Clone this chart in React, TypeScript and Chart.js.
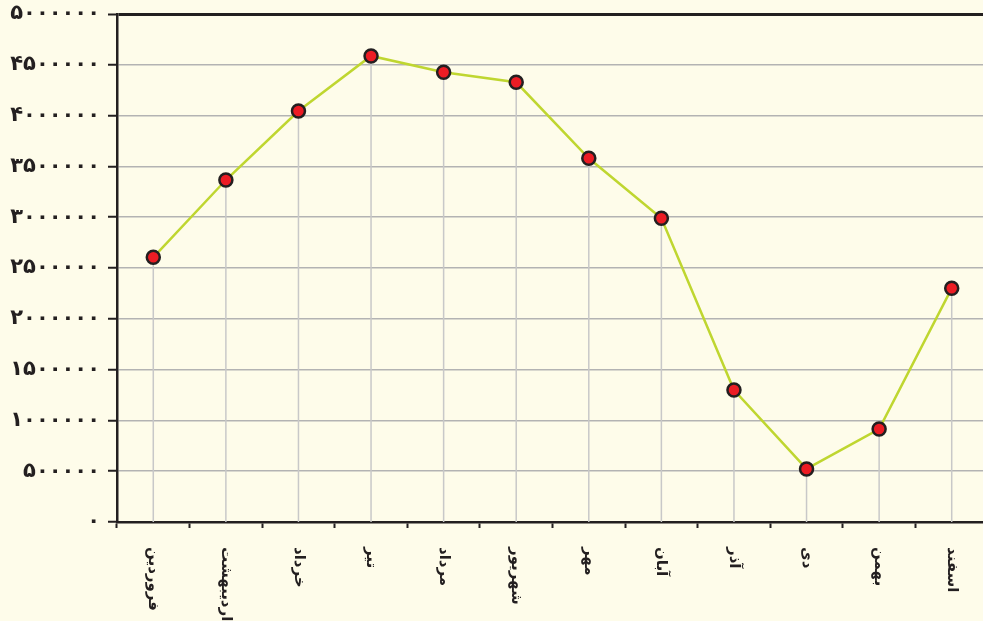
import { useEffect, useRef } from 'react';
import { Chart, registerables } from 'chart.js';
Chart.register(...registerables);

const months = ['فروردین', 'اردیبهشت', 'خرداد', 'تیر', 'مرداد', 'شهریور', 'مهر', 'آبان', 'آذر', 'دی', 'بهمن', 'اسفند'];
const values = [2605000, 3366000, 4045000, 4587000, 4426000, 4328000, 3580000, 2989000, 1299000, 522000, 915000, 2300000];
const yMin = 0;
const yMax = 5000000;
const yStep = 500000;

const persianDigits = '۰۱۲۳۴۵۶۷۸۹';
const toPersian = (v: number | string) => String(v).replace(/\d/g, (d) => persianDigits[+d]);

const INK = '#231F20';
const BG = '#FEFCEA';
const W = 997;
const H = 621;

const dropLines = {
  id: 'dropLines',
  beforeDatasetsDraw(chart: any) {
    const { ctx, chartArea } = chart;
    const meta = chart.getDatasetMeta(0);
    ctx.save();
    ctx.strokeStyle = '#C8C8C8';
    ctx.lineWidth = 1.5;
    meta.data.forEach((pt: any) => {
      ctx.beginPath();
      ctx.moveTo(pt.x, pt.y);
      ctx.lineTo(pt.x, chartArea.bottom);
      ctx.stroke();
    });
    ctx.restore();
  },
};

const rotatedLabels = {
  id: 'rotatedLabels',
  afterDraw(chart: any) {
    const { ctx, chartArea } = chart;
    const xs = chart.scales.x;
    ctx.save();
    ctx.font = 'bold 15px "DejaVu Sans"';
    ctx.fillStyle = INK;
    ctx.textAlign = 'left';
    ctx.textBaseline = 'middle';
    (ctx as any).direction = 'ltr';
    months.forEach((m, i) => {
      const x = xs.getPixelForValue(i);
      ctx.save();
      ctx.translate(x, chartArea.bottom + 25);
      ctx.rotate(Math.PI / 2);
      ctx.fillText(m, 0, 0);
      ctx.restore();
    });
    ctx.restore();
  },
};

export default function App() {
  const ref = useRef<HTMLCanvasElement>(null);
  useEffect(() => {
    document.body.style.margin = '0';
    document.body.style.overflow = 'hidden';
    document.body.style.background = BG;
    const chart = new Chart(ref.current!, {
      type: 'line',
      data: {
        labels: months,
        datasets: [
          {
            data: values,
            borderColor: '#BFD630',
            borderWidth: 2.5,
            pointBackgroundColor: '#EC1C24',
            pointBorderColor: INK,
            pointBorderWidth: 2.5,
            pointRadius: 6.5,
            tension: 0,
          },
        ],
      },
      options: {
        animation: false,
        responsive: false,
        maintainAspectRatio: false,
        devicePixelRatio: 1,
        layout: { padding: { top: 14, left: 0, right: 0, bottom: 0 } },
        plugins: { legend: { display: false }, tooltip: { enabled: false } },
        scales: {
          x: {
            type: 'category',
            offset: true,
            afterFit: (s: any) => {
              s.height = 99;
              s.paddingLeft = 0;
              s.paddingRight = 0;
            },
            grid: {
              offset: true,
              drawOnChartArea: false,
              drawTicks: true,
              tickLength: 6,
              tickColor: INK,
              tickWidth: 2,
            },
            border: { color: INK, width: 2.5 },
            ticks: { display: false },
          },
          y: {
            min: yMin,
            max: yMax,
            afterFit: (s: any) => {
              s.width = 117;
              s.paddingTop = 0;
              s.paddingBottom = 0;
            },
            ticks: {
              stepSize: yStep,
              padding: 8,
              color: INK,
              font: { family: '"DejaVu Sans"', size: 21, weight: 'bold' },
              callback: (v: any) => toPersian(v),
            },
            grid: {
              color: (c: any) => (c.tick && c.tick.value === yMax ? INK : '#B3B3B3'),
              lineWidth: (c: any) => (c.tick && c.tick.value === yMax ? 3 : 1.5),
              tickColor: INK,
              tickLength: 9,
              tickWidth: 2,
            },
            border: { color: INK, width: 2.5 },
          },
        },
      },
      plugins: [dropLines, rotatedLabels],
    });
    return () => chart.destroy();
  }, []);
  return (
    <div style={{ width: 983, height: 621, background: BG, overflow: 'hidden' }}>
      <canvas ref={ref} width={W} height={H} style={{ width: W, height: H, display: 'block' }} />
    </div>
  );
}
